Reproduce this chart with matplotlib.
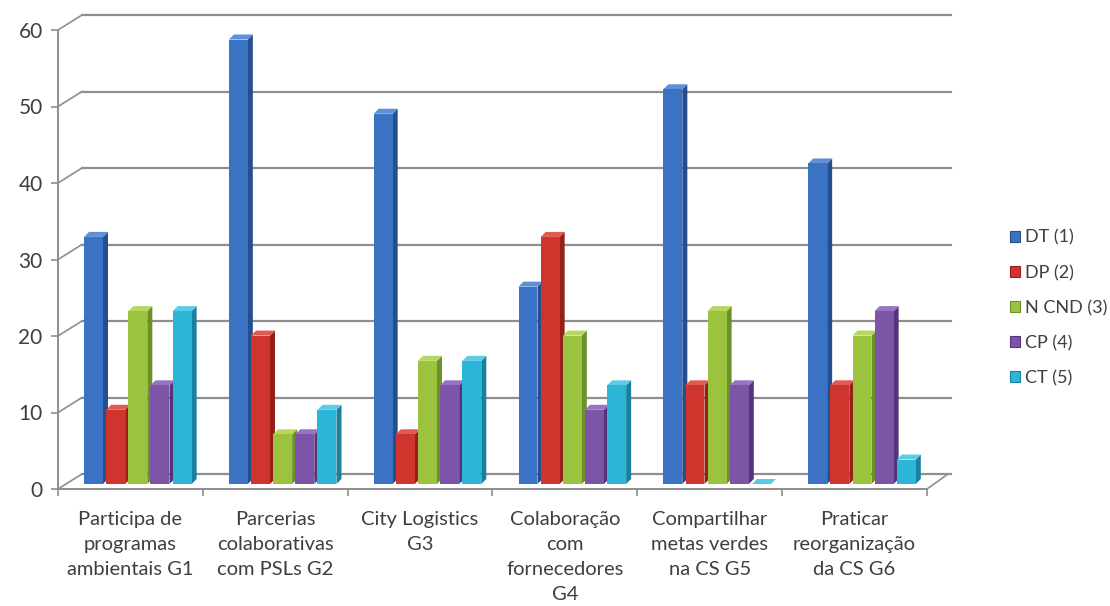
import numpy as np
import matplotlib
matplotlib.use("Agg")
import matplotlib.pyplot as plt
from matplotlib.patches import Polygon, Patch
from matplotlib.transforms import ScaledTranslation

plt.rcParams['font.family'] = ['Lato', 'DejaVu Sans']

categories = ["Participa de\nprogramas\nambientais G1",
              "Parcerias\ncolaborativas\ncom PSLs G2",
              "City Logistics\nG3",
              "Colaboração\ncom\nfornecedores\nG4",
              "Compartilhar\nmetas verdes\nna CS G5",
              "Praticar\nreorganização\nda CS G6"]
series = ["DT (1)", "DP (2)", "N CND (3)", "CP (4)", "CT (5)"]

dt = [32.3, 58.1, 48.4, 25.8, 51.6, 41.9]
dp = [9.7, 19.4, 6.5, 32.3, 12.9, 12.9]
ncnd = [22.6, 6.5, 16.1, 19.4, 22.6, 19.4]
cp = [12.9, 6.5, 12.9, 9.7, 12.9, 22.6]
ct = [22.6, 9.7, 16.1, 12.9, 0.0, 3.2]
values = [dt, dp, ncnd, cp, ct]

# front, side, top shades per series
front = ["#3a72c4", "#cf352d", "#9cc33f", "#7d55a8", "#2db5d8"]
side = ["#234f8e", "#962019", "#6b9128", "#553579", "#17819f"]
top = ["#5f8fd6", "#e05a52", "#b4d85e", "#9674c0", "#5ccbe8"]

W, H, DPI = 1110, 606, 100
fig = plt.figure(figsize=(W / DPI, H / DPI), dpi=DPI)
x0, x1, y0, y1 = 58, 927, 489, 30
ax = fig.add_axes([x0 / W, (H - y0) / H, (x1 - x0) / W, (y0 - y1) / H])
ax.set_xlim(0, 6)
ax.set_ylim(0, 60)

px_x = (x1 - x0) / 6.0
px_y = (y0 - y1) / 60.0
grid_c = "#8e8e8e"
text_c = "#3f3f3f"

# back wall offset and bar plane offset (pixels)
back = ScaledTranslation(24 / DPI, 15 / DPI, fig.dpi_scale_trans)
plane = ScaledTranslation(9 / DPI, 5 / DPI, fig.dpi_scale_trans)
t_back = ax.transData + back
t_bar = ax.transData + plane

yt = np.arange(0, 61, 10)
for v in yt:
    ax.plot([0, 6], [v, v], color=grid_c, lw=1.6, transform=t_back,
            clip_on=False, zorder=1)
    # connector from front axis to back wall
    ax.plot([0, 0 + 24 / px_x], [v, v + 15 / px_y], color=grid_c, lw=1.2,
            clip_on=False, zorder=1)
# right edge of the floor
ax.plot([6, 6 + 21 / px_x], [0, 15 / px_y], color=grid_c, lw=1.2,
        clip_on=False, zorder=1)

# 3D columns
slot = 0.153
bw = 0.131
ddx = 5 / px_x
ddy = 5 / px_y
for k in range(len(categories)):
    for i, vals in enumerate(values):
        v = vals[k]
        left = k + 0.5 - 2.5 * slot + i * slot
        right = left + bw
        sp = Polygon([(right, 0), (right + ddx, ddy), (right + ddx, v + ddy), (right, v)],
                     closed=True, fc=side[i], ec="none", transform=t_bar,
                     clip_on=False, zorder=3)
        tp = Polygon([(left, v), (right, v), (right + ddx, v + ddy), (left + ddx, v + ddy)],
                     closed=True, fc=top[i], ec="none", transform=t_bar,
                     clip_on=False, zorder=3)
        ax.add_patch(sp)
        ax.add_patch(tp)
        ax.bar(left, v, width=bw, align="edge", color=front[i], ec="none",
               transform=t_bar, clip_on=False, zorder=3)

for s in ["top", "right"]:
    ax.spines[s].set_visible(False)
for s in ["left", "bottom"]:
    ax.spines[s].set_color(grid_c)
    ax.spines[s].set_linewidth(1.4)

ax.set_yticks(yt)
ax.tick_params(axis="y", colors=grid_c, length=5, width=1.2, pad=6,
               labelsize=15, labelcolor=text_c)
ax.set_xticks(np.arange(len(categories)) + 0.5)
ax.set_xticklabels(categories, linespacing=1.56)
ax.tick_params(axis="x", which="major", length=0, pad=16, labelsize=14.5,
               labelcolor=text_c)
ax.set_xticks(np.arange(len(categories) + 1), minor=True)
ax.tick_params(axis="x", which="minor", length=5, width=1.2, colors=grid_c)

handles = [Patch(fc=front[i], ec=side[i], lw=0.8) for i in range(len(series))]
fig.legend(handles, series, loc="center left", bbox_to_anchor=(1001 / W, 1 - 308 / H),
           frameon=False, fontsize=13, labelcolor=text_c, handlelength=0.55,
           handleheight=0.55, handletextpad=0.3, labelspacing=1.05, borderpad=0)

fig.savefig("out.png", dpi=DPI, facecolor="white")
